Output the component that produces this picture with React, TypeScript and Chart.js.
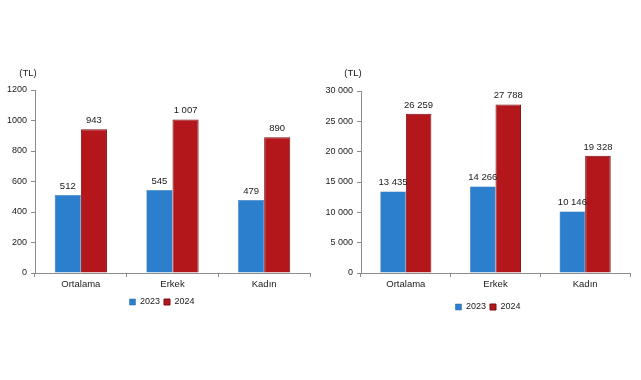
import React, { useEffect, useRef } from "react";
import { Chart, registerables } from "chart.js";

Chart.register(...registerables);

const categories = ["Ortalama", "Erkek", "Kadın"];
const seriesLabels = ["2023", "2024"];
const left2023 = [512, 545, 479];
const left2024 = [943, 1007, 890];
const right2023 = [13435, 14266, 10146];
const right2024 = [26259, 27788, 19328];

const BLUE = "#2b7fcc";
const BLUE_BORDER = "#2468aa";
const RED = "#b3171c";
const RED_BORDER = "#7a0d10";
const FONT = "'Liberation Sans', Arial, sans-serif";
const TEXT = "#1a1a1a";
const AXIS = "#8c8c8c";

const fmt = (v: number) => String(Math.round(v)).replace(/\B(?=(\d{3})+(?!\d))/g, " ");

type PanelCfg = {
  a: number[];
  b: number[];
  max: number;
  step: number;
  tickFmt: (v: number) => string;
  yWidth: number;
  padTop: number;
  padRight: number;
  padBottom: number;
  xHeight: number;
  legendShift: number;
  tlX: number;
  tlY: number;
};

function Panel({ cfg, left, width }: { cfg: PanelCfg; left: number; width: number }) {
  const ref = useRef<HTMLCanvasElement>(null);
  useEffect(() => {
    if (!ref.current) return;
    const labelPlugin = {
      id: "vals",
      afterLayout(chart: any) {
        if (chart.legend) {
          chart.legend.left += cfg.legendShift;
          chart.legend.right += cfg.legendShift;
        }
      },
      afterDatasetsDraw(chart: any) {
        const ctx = chart.ctx;
        ctx.save();
        ctx.font = `9.5px ${FONT}`;
        ctx.fillStyle = TEXT;
        ctx.textAlign = "center";
        ctx.textBaseline = "alphabetic";
        chart.data.datasets.forEach((ds: any, i: number) => {
          const meta = chart.getDatasetMeta(i);
          meta.data.forEach((el: any, j: number) => {
            ctx.fillText(fmt(ds.data[j]), el.x, el.y - 6);
          });
        });
        ctx.textAlign = "center";
        ctx.textBaseline = "middle";
        ctx.fillText("(TL)", cfg.tlX, cfg.tlY);
        ctx.restore();
      },
    };
    const chart = new Chart(ref.current, {
      type: "bar",
      data: {
        labels: categories,
        datasets: [
          {
            label: seriesLabels[0],
            data: cfg.a,
            backgroundColor: BLUE,
            borderColor: BLUE_BORDER,
            borderWidth: 0.5,
            categoryPercentage: 0.57,
            barPercentage: 1,
          },
          {
            label: seriesLabels[1],
            data: cfg.b,
            backgroundColor: RED,
            borderColor: RED_BORDER,
            borderWidth: 1,
            categoryPercentage: 0.57,
            barPercentage: 1,
          },
        ],
      },
      options: {
        animation: false,
        responsive: false,
        maintainAspectRatio: false,
        layout: {
          padding: { left: 0, top: cfg.padTop, right: cfg.padRight, bottom: cfg.padBottom },
        },
        plugins: {
          tooltip: { enabled: false },
          legend: {
            position: "bottom",
            labels: {
              boxWidth: 6,
              boxHeight: 6,
              padding: 4,
              color: TEXT,
              font: { family: FONT, size: 9 },
            },
          },
        },
        scales: {
          x: {
            afterFit: (s: any) => {
              s.height = cfg.xHeight;
            },
            border: { display: true, color: AXIS, width: 1 },
            grid: {
              display: true,
              drawOnChartArea: false,
              drawTicks: true,
              tickLength: 4,
              color: AXIS,
              offset: true,
            },
            ticks: { color: TEXT, font: { family: FONT, size: 9.5 }, padding: 2 },
          },
          y: {
            min: 0,
            max: cfg.max,
            afterFit: (s: any) => {
              s.width = cfg.yWidth;
            },
            border: { display: true, color: AXIS, width: 1 },
            grid: {
              display: true,
              drawOnChartArea: false,
              drawTicks: true,
              tickLength: 4,
              color: AXIS,
            },
            ticks: {
              stepSize: cfg.step,
              color: TEXT,
              padding: 4,
              font: { family: FONT, size: 9 },
              callback: (v: any) => cfg.tickFmt(Number(v)),
            },
          },
        },
      } as any,
      plugins: [labelPlugin],
    });
    return () => chart.destroy();
  }, []);
  return (
    <canvas
      ref={ref}
      width={width}
      height={380}
      style={{ position: "absolute", left, top: 0, width, height: 380 }}
    />
  );
}

const leftCfg: PanelCfg = {
  a: left2023,
  b: left2024,
  max: 1200,
  step: 200,
  tickFmt: (v) => String(v),
  yWidth: 35,
  padTop: 90,
  padRight: 10,
  padBottom: 63.5,
  xHeight: 20.5,
  legendShift: 7,
  tlX: 28,
  tlY: 73,
};

const rightCfg: PanelCfg = {
  a: right2023,
  b: right2024,
  max: 30000,
  step: 5000,
  tickFmt: (v) => fmt(v),
  yWidth: 41,
  padTop: 91,
  padRight: 11,
  padBottom: 58.5,
  xHeight: 25.5,
  legendShift: 13,
  tlX: 33,
  tlY: 73,
};

export default function App() {
  return (
    <div style={{ position: "fixed", left: 0, top: 0, width: 641, height: 380, background: "#fff" }}>
      <Panel cfg={leftCfg} left={0} width={320} />
      <Panel cfg={rightCfg} left={320} width={321} />
    </div>
  );
}
